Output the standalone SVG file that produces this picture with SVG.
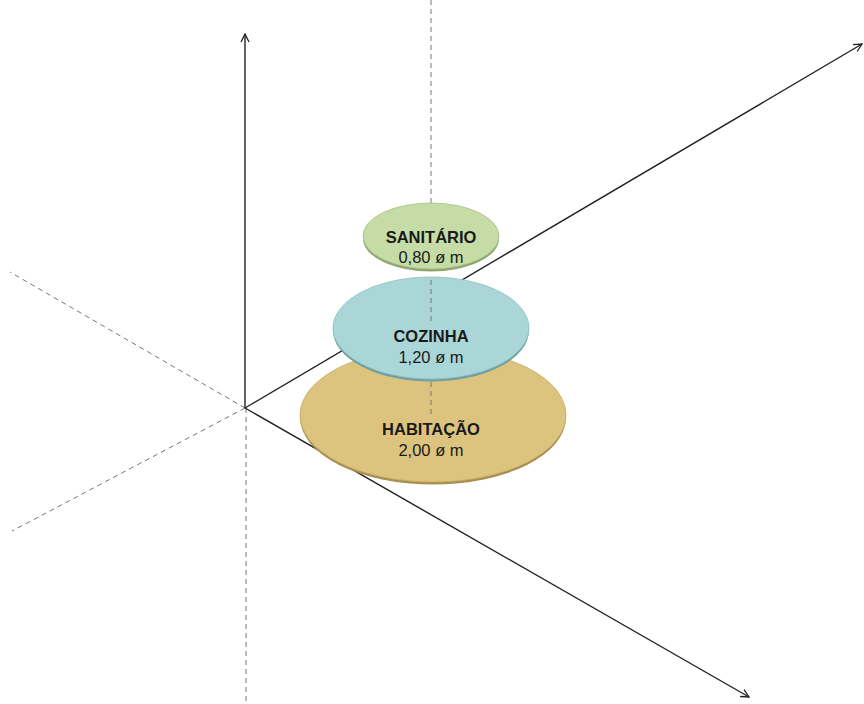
<svg xmlns="http://www.w3.org/2000/svg" width="864" height="704" viewBox="0 0 864 704">
<defs>
<marker id="arr" viewBox="0 0 10 10" refX="9" refY="5" markerWidth="10" markerHeight="10" markerUnits="userSpaceOnUse" orient="auto">
<path d="M1,1 L9,5 L1,9" fill="none" stroke="#222" stroke-width="1.3"/>
</marker>
</defs>
<style>
.ax{stroke:#222;stroke-width:1.4;fill:none}
.dash{stroke:#777;stroke-width:1;stroke-dasharray:5,4;fill:none}
.t1{font-family:"Liberation Sans",Arial,sans-serif;font-size:16.5px;font-weight:bold;fill:#1a1a1a;text-anchor:middle}
.t2{font-family:"Liberation Sans",Arial,sans-serif;font-size:16.5px;fill:#1a1a1a;text-anchor:middle}
</style>
<rect width="864" height="704" fill="#fff"/>
<g id="connectors">
<line class="dash" x1="245" y1="408" x2="10" y2="272"/>
<line class="dash" x1="245" y1="408" x2="12" y2="531"/>
<line class="dash" x1="246" y1="408" x2="246" y2="704"/>
<line class="dash" x1="431" y1="0" x2="431" y2="212"/>
<line class="ax" x1="245" y1="408" x2="245" y2="34" marker-end="url(#arr)"/>
<line class="ax" x1="245" y1="408" x2="862" y2="44" marker-end="url(#arr)"/>
<line class="ax" x1="245" y1="408" x2="749" y2="697" marker-end="url(#arr)"/>
</g>
<g id="habitacao">
<ellipse cx="433" cy="417.5" rx="133" ry="67" fill="#a88f50"/>
<ellipse cx="433" cy="415" rx="133" ry="67" fill="#dcc47f" stroke="#c4ac68" stroke-width="0.8"/>
<line class="dash" x1="431" y1="382" x2="431" y2="415"/>
<text class="t1" x="431" y="435">HABITAÇÃO</text>
<text class="t2" x="431" y="456">2,00 ø m</text>
</g>
<g id="cozinha">
<ellipse cx="431" cy="330.5" rx="98" ry="51" fill="#6f9fa0"/>
<ellipse cx="431" cy="328" rx="98" ry="51" fill="#aad6d7" stroke="#8fbfc0" stroke-width="0.8"/>
<line class="dash" x1="431" y1="280" x2="431" y2="324"/>
<text class="t1" x="431" y="342">COZINHA</text>
<text class="t2" x="431" y="363">1,20 ø m</text>
</g>
<g id="sanitario">
<ellipse cx="431" cy="238.5" rx="68" ry="33" fill="#8fa46f"/>
<ellipse cx="431" cy="236" rx="68" ry="33" fill="#c6dca6" stroke="#a9c087" stroke-width="0.8"/>
<text class="t1" x="431" y="243">SANITÁRIO</text>
<text class="t2" x="431" y="263">0,80 ø m</text>
</g>
</svg>
